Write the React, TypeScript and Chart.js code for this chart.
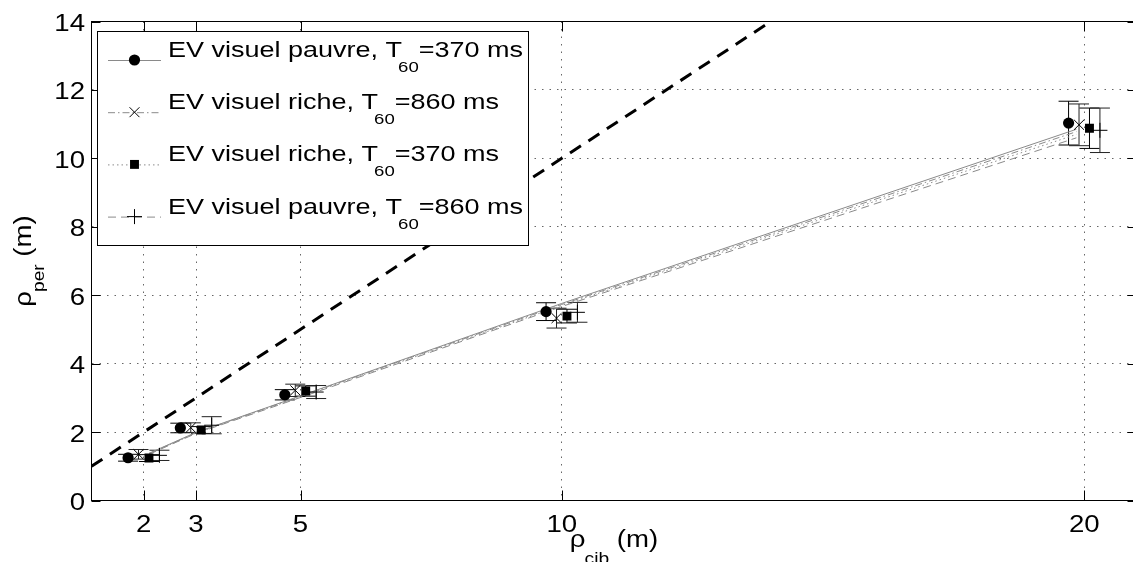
import React, { useEffect, useRef } from "react";
import { Chart, registerables } from "chart.js";

Chart.register(...registerables);

// ---------------- data ----------------
const xTicks = [2, 3, 5, 10, 20];
const yTicks = [0, 2, 4, 6, 8, 10, 12, 14];
const xMin = 1;
const xMax = 21;
const yMin = 0;
const yMax = 14;

// EV visuel pauvre, T60 = 370 ms (filled circle)
const xPauvre370 = [1.7, 2.7, 4.7, 9.7, 19.7];
const yPauvre370 = [1.25, 2.12, 3.09, 5.52, 11.03];
const ePauvre370 = [0.1, 0.14, 0.15, 0.26, 0.64];

// EV visuel riche, T60 = 860 ms (x)
const xRiche860 = [1.9, 2.9, 4.9, 9.9, 19.9];
const yRiche860 = [1.35, 2.13, 3.22, 5.33, 10.98];
const eRiche860 = [0.14, 0.14, 0.18, 0.29, 0.61];

// EV visuel riche, T60 = 370 ms (filled square)
const xRiche370 = [2.1, 3.1, 5.1, 10.1, 20.1];
const yRiche370 = [1.24, 2.06, 3.2, 5.39, 10.88];
const eRiche370 = [0.1, 0.1, 0.15, 0.2, 0.59];

// EV visuel pauvre, T60 = 860 ms (+)
const xPauvre860 = [2.3, 3.3, 5.3, 10.3, 20.3];
const yPauvre860 = [1.32, 2.2, 3.17, 5.5, 10.82];
const ePauvre860 = [0.15, 0.25, 0.19, 0.29, 0.65];

// fitted trend lines
const fitX = [2.1, 3, 5, 10, 19.85];
const fitPauvre370 = [1.38, 1.99, 3.06, 5.76, 10.85];
const fitRiche860 = [1.37, 1.98, 3.05, 5.73, 10.78];
const fitRiche370 = [1.36, 1.97, 3.03, 5.7, 10.7];
const fitPauvre860 = [1.35, 1.96, 3.01, 5.67, 10.6];

// reference line rho_per = rho_cib
const refX = [1, 14];
const refY = [1, 14];

const legendMain = ["EV visuel pauvre, T", "EV visuel riche, T", "EV visuel riche, T", "EV visuel pauvre, T"];
const legendSub = ["60", "60", "60", "60"];
const legendTail = ["=370 ms", "=860 ms", "=370 ms", "=860 ms"];

const xTitleMain = "ρ";
const xTitleSub = "cib";
const yTitleMain = "ρ";
const yTitleSub = "per";
const titleUnit = " (m)";

// ---------------- styles ----------------
const FONT = '"Liberation Sans", Arial, Helvetica, sans-serif';
const STRETCH = 1.2;
const GRAY = "#8a8a8a";
const TICK_SIZE = 23;

type Marker = "circle" | "crossRot" | "rect" | "cross";
const seriesDefs: {
  xs: number[];
  ys: number[];
  es: number[];
  fit: number[];
  marker: Marker;
  radius: number;
  dash: number[];
  barColor: string;
}[] = [
  { xs: xPauvre370, ys: yPauvre370, es: ePauvre370, fit: fitPauvre370, marker: "circle", radius: 5.6, dash: [], barColor: "#000" },
  { xs: xRiche860, ys: yRiche860, es: eRiche860, fit: fitRiche860, marker: "crossRot", radius: 7, dash: [7, 3, 1.5, 3], barColor: "#222" },
  { xs: xRiche370, ys: yRiche370, es: eRiche370, fit: fitRiche370, marker: "rect", radius: 6.3, dash: [1.5, 3], barColor: "#000" },
  { xs: xPauvre860, ys: yPauvre860, es: ePauvre860, fit: fitPauvre860, marker: "cross", radius: 7.5, dash: [8, 5], barColor: "#222" },
];

type Run = { text: string; size: number; dy: number; dx?: number };

function drawRuns(ctx: CanvasRenderingContext2D, runs: Run[], x: number, y: number, align: "left" | "center" | "right") {
  const widths = runs.map((r) => {
    ctx.font = `${r.size}px ${FONT}`;
    return ctx.measureText(r.text).width * STRETCH + (r.dx || 0);
  });
  const total = widths.reduce((a, b) => a + b, 0);
  let cx = align === "left" ? x : align === "center" ? x - total / 2 : x - total;
  runs.forEach((r, i) => {
    ctx.save();
    ctx.font = `${r.size}px ${FONT}`;
    ctx.fillStyle = "#000";
    ctx.textAlign = "left";
    ctx.textBaseline = "alphabetic";
    ctx.translate(cx + (r.dx || 0), y + r.dy);
    ctx.scale(STRETCH, 1);
    ctx.fillText(r.text, 0, 0);
    ctx.restore();
    cx += widths[i];
  });
}

function drawMarker(ctx: CanvasRenderingContext2D, m: Marker, x: number, y: number, r: number) {
  ctx.save();
  ctx.fillStyle = "#000";
  ctx.strokeStyle = "#000";
  ctx.lineWidth = 1;
  ctx.setLineDash([]);
  ctx.beginPath();
  if (m === "circle") {
    ctx.arc(x, y, r, 0, Math.PI * 2);
    ctx.fill();
  } else if (m === "rect") {
    const s = r * Math.SQRT1_2;
    ctx.fillRect(x - s, y - s, 2 * s, 2 * s);
  } else if (m === "crossRot") {
    const d = r * Math.SQRT1_2;
    ctx.moveTo(x - d, y - d);
    ctx.lineTo(x + d, y + d);
    ctx.moveTo(x - d, y + d);
    ctx.lineTo(x + d, y - d);
    ctx.stroke();
  } else {
    ctx.moveTo(x - r, y);
    ctx.lineTo(x + r, y);
    ctx.moveTo(x, y - r);
    ctx.lineTo(x, y + r);
    ctx.stroke();
  }
  ctx.restore();
}

const overlayPlugin = {
  id: "overlay",
  beforeDatasetsDraw(chart: any) {
    const ctx: CanvasRenderingContext2D = chart.ctx;
    const xs = chart.scales.x;
    const ys = chart.scales.y;
    const cap = 10;
    ctx.save();
    ctx.setLineDash([]);
    ctx.lineWidth = 1;
    seriesDefs.forEach((s) => {
      ctx.strokeStyle = s.barColor;
      s.xs.forEach((xv, i) => {
        const px = xs.getPixelForValue(xv);
        const top = ys.getPixelForValue(s.ys[i] + s.es[i]);
        const bot = ys.getPixelForValue(s.ys[i] - s.es[i]);
        ctx.beginPath();
        ctx.moveTo(px, top);
        ctx.lineTo(px, bot);
        ctx.moveTo(px - cap, top);
        ctx.lineTo(px + cap, top);
        ctx.moveTo(px - cap, bot);
        ctx.lineTo(px + cap, bot);
        ctx.stroke();
      });
    });
    ctx.restore();
  },
  afterDatasetsDraw(chart: any) {
    const ctx: CanvasRenderingContext2D = chart.ctx;
    const { left, right, top, bottom } = chart.chartArea;
    const xs = chart.scales.x;
    const ys = chart.scales.y;
    ctx.save();
    ctx.setLineDash([]);
    ctx.strokeStyle = "#000";
    ctx.lineWidth = 1;
    // axes box
    ctx.strokeRect(left, top, right - left, bottom - top);
    // inward ticks
    ctx.beginPath();
    xTicks.forEach((v) => {
      const px = Math.round(xs.getPixelForValue(v)) + 0.5;
      ctx.moveTo(px, bottom);
      ctx.lineTo(px, bottom - 10);
      ctx.moveTo(px, top);
      ctx.lineTo(px, top + 10);
    });
    yTicks.forEach((v) => {
      const py = Math.round(ys.getPixelForValue(v)) + 0.5;
      ctx.moveTo(left, py);
      ctx.lineTo(left + 9, py);
      ctx.moveTo(right, py);
      ctx.lineTo(right - 9, py);
    });
    ctx.stroke();

    // legend
    const L = { left: 97.5, top: 31.5, right: 528.5, bottom: 245.5, row0: 60, step: 52.2, x0: 108, x1: 161, mx: 134.5, tx: 168 };
    ctx.fillStyle = "#fff";
    ctx.fillRect(L.left, L.top, L.right - L.left, L.bottom - L.top);
    ctx.strokeRect(L.left, L.top, L.right - L.left, L.bottom - L.top);
    seriesDefs.forEach((s, i) => {
      const y = L.row0 + i * L.step;
      ctx.save();
      ctx.strokeStyle = GRAY;
      ctx.lineWidth = 1;
      ctx.setLineDash(s.dash);
      ctx.beginPath();
      ctx.moveTo(L.x0, y + 0.5);
      ctx.lineTo(L.x1, y + 0.5);
      ctx.stroke();
      ctx.restore();
      drawMarker(ctx, s.marker, L.mx, y, s.radius);
      drawRuns(
        ctx,
        [
          { text: legendMain[i], size: 22.5, dy: -3 },
          { text: legendSub[i], size: 15.5, dy: 12, dx: -4 },
          { text: legendTail[i], size: 22.5, dy: -3 },
        ],
        L.tx,
        y,
        "left"
      );
    });
    ctx.restore();
  },
  afterDraw(chart: any) {
    const ctx: CanvasRenderingContext2D = chart.ctx;
    const { left, right, top, bottom } = chart.chartArea;
    const xs = chart.scales.x;
    const ys = chart.scales.y;
    xTicks.forEach((v) => {
      drawRuns(ctx, [{ text: String(v), size: TICK_SIZE, dy: 0 }], xs.getPixelForValue(v), 532, "center");
    });
    yTicks.forEach((v) => {
      drawRuns(ctx, [{ text: String(v), size: TICK_SIZE, dy: 0 }], 85, ys.getPixelForValue(v) + 9.5, "right");
    });
    // x title
    drawRuns(
      ctx,
      [
        { text: xTitleMain, size: TICK_SIZE, dy: 0 },
        { text: xTitleSub, size: 16, dy: 17, dx: -1 },
        { text: titleUnit, size: TICK_SIZE, dy: 0 },
      ],
      (left + right) / 2,
      547,
      "center"
    );
    // y title
    ctx.save();
    ctx.translate(31, (top + bottom) / 2);
    ctx.rotate(-Math.PI / 2);
    drawRuns(
      ctx,
      [
        { text: yTitleMain, size: TICK_SIZE, dy: 0 },
        { text: yTitleSub, size: 16, dy: 13, dx: -1 },
        { text: titleUnit, size: TICK_SIZE, dy: 0 },
      ],
      0,
      0,
      "center"
    );
    ctx.restore();
  },
};

const pts = (xs: number[], ys: number[]) => xs.map((x, i) => ({ x, y: ys[i] }));

export default function App() {
  const ref = useRef<HTMLCanvasElement>(null);
  useEffect(() => {
    const canvas = ref.current;
    if (!canvas) return;
    const markerSets = seriesDefs.map((s) => ({
      type: "scatter" as const,
      data: pts(s.xs, s.ys),
      showLine: false,
      pointStyle: s.marker,
      pointRadius: s.radius,
      pointBackgroundColor: "#000",
      pointBorderColor: "#000",
      pointBorderWidth: s.marker === "circle" || s.marker === "rect" ? 0 : 1,
    }));
    const fitSets = seriesDefs.map((s) => ({
      type: "scatter" as const,
      data: pts(fitX, s.fit),
      showLine: true,
      pointRadius: 0,
      borderColor: GRAY,
      borderWidth: 1,
      borderDash: s.dash,
      fill: false,
    }));
    const refSet = {
      type: "scatter" as const,
      data: pts(refX, refY),
      showLine: true,
      pointRadius: 0,
      borderColor: "#000",
      borderWidth: 3,
      borderDash: [13, 9],
      fill: false,
    };
    const chart = new Chart(canvas, {
      type: "scatter",
      data: { datasets: [...markerSets, refSet, ...fitSets] as any },
      options: {
        animation: false,
        responsive: false,
        devicePixelRatio: 1,
        events: [],
        layout: { padding: { top: 21.5, right: 7.4, left: 0, bottom: 0 } },
        plugins: { legend: { display: false }, tooltip: { enabled: false } },
        scales: {
          x: {
            type: "linear",
            min: xMin,
            max: xMax,
            afterBuildTicks: (s: any) => {
              s.ticks = xTicks.map((v) => ({ value: v }));
            },
            afterFit: (s: any) => {
              s.height = 61.5;
            },
            ticks: { display: false },
            grid: { color: "#666", lineWidth: 1, drawTicks: false },
            border: { display: false, dash: [1.5, 6] },
          },
          y: {
            type: "linear",
            min: yMin,
            max: yMax,
            afterBuildTicks: (s: any) => {
              s.ticks = yTicks.map((v) => ({ value: v }));
            },
            afterFit: (s: any) => {
              s.width = 91.5;
            },
            ticks: { display: false },
            grid: { color: "#666", lineWidth: 1, drawTicks: false },
            border: { display: false, dash: [1.5, 6] },
          },
        },
      },
      plugins: [overlayPlugin],
    });
    return () => chart.destroy();
  }, []);
  return (
    <div
      style={{
        position: "fixed",
        left: 0,
        top: 0,
        width: 1133,
        height: 562,
        overflow: "hidden",
        background: "#fff",
      }}
    >
      <canvas ref={ref} width={1145} height={562} style={{ display: "block", width: "1145px", height: "562px" }} />
    </div>
  );
}
